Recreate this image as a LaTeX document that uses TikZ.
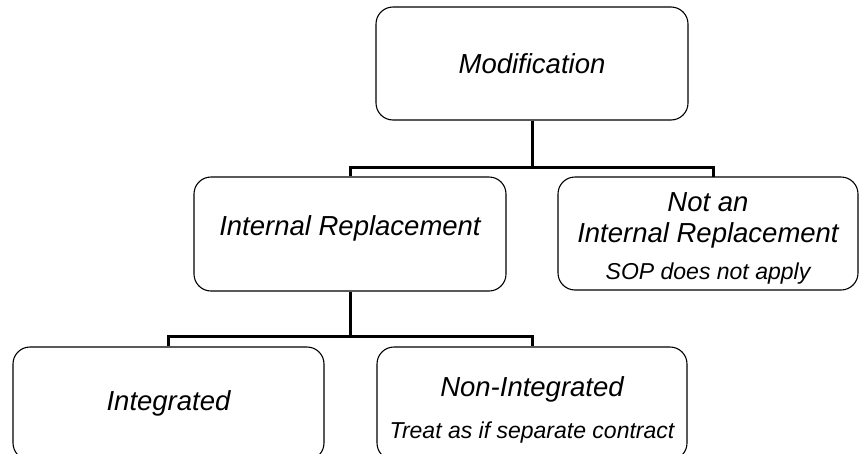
\documentclass[tikz,border=0pt]{standalone}
\usepackage{fontspec}
\setmainfont{Liberation Sans}
\usepackage{tikz}
\usetikzlibrary{positioning}

\newcommand{\subtext}[1]{{\fontsize{23}{27}\selectfont #1}}

\begin{document}
\begin{tikzpicture}[
    x=1pt, y=-1pt,
    box/.style={draw, line width=1.1pt, rounded corners=17pt, align=center, inner sep=0pt,
                font=\itshape\fontsize{27.5}{31}\selectfont},
    link/.style={line width=3pt}
]
\useasboundingbox (0,0) rectangle (860,453);

% Top level
\node[box, minimum width=312pt, minimum height=113pt] (mod) at (532,63.5) {Modification};

% Second level
\node[box, minimum width=312pt, minimum height=114pt, text height=19pt, text depth=17pt] (intrepl) at (350,234) {Internal Replacement};
\node[box, minimum width=300pt, minimum height=113pt] (notrepl) at (708,233.5)
    {\rule{0pt}{28pt}Not an\\Internal Replacement\\[6pt]\subtext{SOP does not apply}};

% Third level
\node[box, minimum width=311pt, minimum height=113pt] (integ) at (168.5,403.5) {Integrated};
\node[box, minimum width=310pt, minimum height=113pt] (noninteg) at (532,403.5)
    {\rule{0pt}{33pt}Non-Integrated\\[11pt]\subtext{Treat as if separate contract}};

% Connectors
\coordinate (topbar) at (532,167);
\coordinate (notrepl-in) at (713,177);
\coordinate (lowbar) at (350,336);

\draw[link] (mod.south) -- (topbar);
\draw[link] (intrepl.north) |- (topbar) -| (notrepl-in);
\draw[link] (intrepl.south) -- (lowbar);
\draw[link] (integ.north) |- (lowbar) -| (noninteg.north);

\end{tikzpicture}
\end{document}
